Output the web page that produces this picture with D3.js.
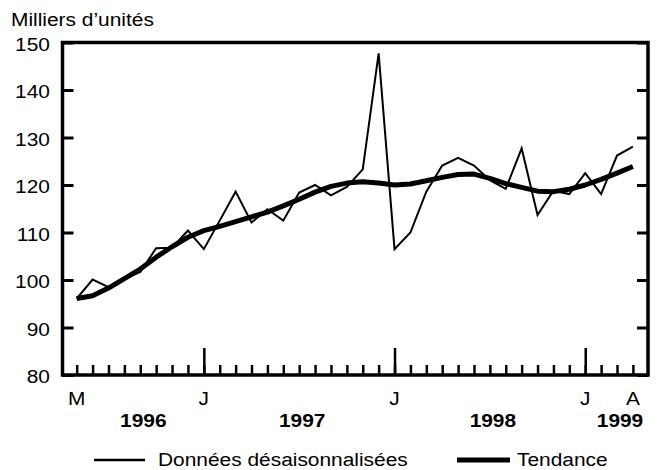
<!DOCTYPE html>
<html>
<head>
<meta charset="utf-8">
<script src="https://cdn.jsdelivr.net/npm/d3@7"></script>
<style>
  body { margin: 0; background: #fff; }
  text { font-family: "Liberation Sans", Arial, sans-serif; fill: #000; font-size: 19px; }
</style>
</head>
<body>
<div id="chart"></div>
<script>
// monthly values, May 1996 to April 1999 (thousands of units)
const rawValues = [
  96.1, 100.1, 98.5, 100.2, 101.7, 106.7, 106.8, 110.4,
  106.5, 112.5, 118.6, 112.1, 114.9, 112.5, 118.4, 120.0, 117.8, 119.6, 123.3, 147.7,
  106.5, 110.0, 118.6, 124.1, 125.7, 124.1, 121.0, 119.2, 127.7, 113.7, 118.8, 118.1,
  122.5, 118.1, 126.2, 128.1
];
const trendValues = [
  96.1, 96.7, 98.3, 100.3, 102.3, 104.8, 107.0, 109.0,
  110.4, 111.3, 112.3, 113.3, 114.3, 115.6, 117.0, 118.5, 119.7, 120.4, 120.7, 120.4,
  120.0, 120.2, 120.9, 121.6, 122.2, 122.3, 121.4, 120.3, 119.5, 118.7, 118.6, 119.1,
  120.0, 121.2, 122.5, 123.9
];
const yTicks = [80, 90, 100, 110, 120, 130, 140, 150];
const monthLabels = ['M', 'J', 'J', 'J', 'A'];
const monthLabelIndex = [0, 8, 20, 32, 35];
const januaryIndex = [8, 20, 32];
const years = ['1996', '1997', '1998', '1999'];
const yearStart = [0, 8, 20, 32];
const yearEnd = [8, 20, 32, 36];
const seriesNames = ['Données désaisonnalisées', 'Tendance'];

const W = 660, H = 470;
const plotLeft = 62.5, plotRight = 648, plotTop = 42.5, plotBottom = 375;
const stretchX = 1.1; // the source lettering is a little wider than Arial

const svg = d3.select('#chart').append('svg')
  .attr('width', W).attr('height', H);

const x = d3.scaleLinear().domain([0, rawValues.length - 1]).range([76.7, 632.9]);
const y = d3.scaleLinear().domain([80, 150]).range([plotBottom, plotTop]);

// place a text at (tx, ty) with a slight horizontal stretch
function label(parent, tx, ty, str, anchor) {
  return parent.append('text')
    .attr('transform', `translate(${tx},${ty}) scale(${stretchX},1)`)
    .attr('text-anchor', anchor || 'start')
    .text(str);
}

// y ticks, left and right, pointing inward
svg.append('g')
  .attr('transform', `translate(${plotLeft},0)`)
  .call(d3.axisRight(y).tickValues(yTicks).tickSize(11).tickFormat(''))
  .call(g => g.select('.domain').remove())
  .selectAll('line').attr('stroke', '#000').attr('stroke-width', 3);

svg.append('g')
  .attr('transform', `translate(${plotRight},0)`)
  .call(d3.axisLeft(y).tickValues(yTicks).tickSize(11).tickFormat(''))
  .call(g => g.select('.domain').remove())
  .selectAll('line').attr('stroke', '#000').attr('stroke-width', 3);

yTicks.forEach(v => label(svg, 50, y(v) + 8, v, 'end'));

// month ticks along the bottom
svg.append('g')
  .attr('transform', `translate(0,${plotBottom})`)
  .call(d3.axisTop(x).tickValues(d3.range(rawValues.length)).tickSize(10).tickFormat(''))
  .call(g => g.select('.domain').remove())
  .selectAll('line').attr('stroke', '#000').attr('stroke-width', 2.5);

svg.append('g')
  .attr('transform', `translate(0,${plotBottom})`)
  .call(d3.axisTop(x).tickValues(januaryIndex).tickSize(27).tickFormat(''))
  .call(g => g.select('.domain').remove())
  .selectAll('line').attr('stroke', '#000').attr('stroke-width', 2.5);

// frame
svg.append('rect')
  .attr('x', plotLeft).attr('y', plotTop)
  .attr('width', plotRight - plotLeft).attr('height', plotBottom - plotTop)
  .attr('fill', 'none').attr('stroke', '#000').attr('stroke-width', 3.5);

monthLabels.forEach((m, i) => label(svg, x(monthLabelIndex[i]), 405, m, 'middle'));

years.forEach((yr, i) => {
  label(svg, (x(yearStart[i]) + x(yearEnd[i])) / 2 + 3, 427, yr, 'middle')
    .style('font-weight', 'bold');
});

label(svg, 11, 26, 'Milliers d’unités');

const line = d3.line().x((d, i) => x(i)).y(d => y(d));

svg.append('path')
  .datum(trendValues)
  .attr('d', line)
  .attr('fill', 'none')
  .attr('stroke', '#000')
  .attr('stroke-width', 5)
  .attr('stroke-linejoin', 'round');

svg.append('path')
  .datum(rawValues)
  .attr('d', line)
  .attr('fill', 'none')
  .attr('stroke', '#000')
  .attr('stroke-width', 2);

// legend
const legend = svg.append('g');
legend.append('line')
  .attr('x1', 94).attr('x2', 145).attr('y1', 460).attr('y2', 460)
  .attr('stroke', '#000').attr('stroke-width', 2.5);
label(legend, 158, 466, seriesNames[0]);
legend.append('line')
  .attr('x1', 457).attr('x2', 510).attr('y1', 460).attr('y2', 460)
  .attr('stroke', '#000').attr('stroke-width', 5);
label(legend, 517, 466, seriesNames[1]);
</script>
</body>
</html>
